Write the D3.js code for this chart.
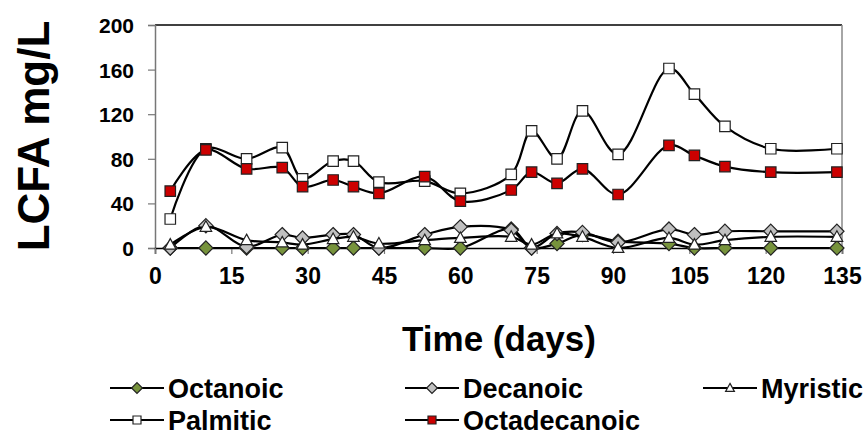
<!DOCTYPE html>
<html>
<head>
<meta charset="utf-8">
<script src="https://cdn.jsdelivr.net/npm/d3@7"></script>
<style>
  body { margin: 0; background: #fff; }
  svg text { font-family: Arial, "Liberation Sans", sans-serif; font-weight: bold; fill: #000; }
</style>
</head>
<body>
<div id="chart"></div>
<script>
const days = [3, 10, 18, 25, 29, 35, 39, 44, 53, 60, 70, 74, 79, 84, 91, 101, 106, 112, 121, 134];
const octanoic = [0, 0, 0, 0, 0, 0, 0, 0, 0, 0, 17, 0, 4, 12, 6, 4, 0, 0, 0, 0];
const decanoic = [0, 20, 1, 12, 9, 12, 12, 0, 12, 19, 16, 0, 13, 14, 5, 17, 12, 15, 15, 15];
const myristic = [3, 19, 7, 5, 3, 8, 10, 4, 7, 9, 10, 3, 13, 10, 0, 9, 3, 7, 10, 10];
const palmitic = [26, 89, 80, 90, 62, 78, 78, 59, 60, 49, 66, 105, 80, 123, 84, 161, 138, 109, 89, 89];
const octadecanoic = [51, 88, 71, 72, 55, 61, 55, 49, 64, 42, 52, 68, 58, 71, 48, 92, 83, 73, 68, 68];
const seriesNames = ["Octanoic", "Decanoic", "Myristic", "Palmitic", "Octadecanoic"];
const xTicks = [0, 15, 30, 45, 60, 75, 90, 105, 120, 135];
const yTicks = [0, 40, 80, 120, 160, 200];

const width = 866, height = 436;
const margin = { top: 25, left: 155, bottom: 188, right: 24 };
const iw = width - margin.left - margin.right;
const ih = height - margin.top - margin.bottom;

const svg = d3.select("#chart").append("svg")
  .attr("width", width).attr("height", height);

const x = d3.scaleLinear().domain([0, 135]).range([0, iw]);
const y = d3.scaleLinear().domain([0, 200]).range([ih, 0]);

const g = svg.append("g").attr("transform", `translate(${margin.left},${margin.top})`);

// frame: top black, right grey
g.append("line").attr("x1", 0).attr("x2", iw).attr("y1", 0).attr("y2", 0)
  .attr("stroke", "#000").attr("stroke-width", 1.5);
g.append("line").attr("x1", iw).attr("x2", iw).attr("y1", 0).attr("y2", ih)
  .attr("stroke", "#888").attr("stroke-width", 1.5);

const yAxis = g.append("g").call(d3.axisLeft(y).tickValues(yTicks).tickSize(7).tickPadding(14));
yAxis.select(".domain").attr("stroke", "#777").attr("stroke-width", 1.5);
yAxis.selectAll(".tick line").attr("stroke", "#777").attr("stroke-width", 1.2);
yAxis.selectAll(".tick text").style("font-size", "21px").attr("dy", "0.36em");

const xAxis = g.append("g").attr("transform", `translate(0,${ih})`)
  .call(d3.axisBottom(x).tickValues(xTicks).tickSize(6).tickPadding(14));
xAxis.select(".domain").attr("stroke", "#000").attr("stroke-width", 1.5);
xAxis.selectAll(".tick line").attr("stroke", "#777").attr("stroke-width", 1.2);
xAxis.selectAll(".tick text").style("font-size", "23px");

svg.append("text")
  .attr("transform", `translate(49,136) rotate(-90)`)
  .attr("text-anchor", "middle")
  .style("font-size", "44px")
  .text("LCFA mg/L");

svg.append("text")
  .attr("x", 499).attr("y", 351)
  .attr("text-anchor", "middle")
  .style("font-size", "35px")
  .text("Time (days)");

const styles = {
  Octanoic: { fill: "#77933C", shape: "diamond" },
  Decanoic: { fill: "#C0C0C0", shape: "diamond" },
  Myristic: { fill: "#FFFFFF", shape: "triangle" },
  Palmitic: { fill: "#FFFFFF", shape: "square" },
  Octadecanoic: { fill: "#CC0000", shape: "square" }
};
const values = { Octanoic: octanoic, Decanoic: decanoic, Myristic: myristic, Palmitic: palmitic, Octadecanoic: octadecanoic };

function markerPath(shape, s) {
  const h = s / 2;
  if (shape === "square") return `M${-h},${-h}H${h}V${h}H${-h}Z`;
  if (shape === "diamond") { const d = h * 1.35; return `M0,${-d}L${d},0L0,${d}L${-d},0Z`; }
  return `M0,${-h * 1.15}L${h * 1.1},${h * 0.85}L${-h * 1.1},${h * 0.85}Z`;
}

const line = d3.line().x(d => x(d[0])).y(d => y(d[1])).curve(d3.curveCatmullRom.alpha(0.5));

seriesNames.forEach(name => {
  const pts = days.map((d, i) => [d, values[name][i]]);
  const st = styles[name];
  const sg = g.append("g");
  sg.append("path").datum(pts)
    .attr("d", line).attr("fill", "none")
    .attr("stroke", "#000").attr("stroke-width", 2.2);
  sg.selectAll("path.m").data(pts).enter().append("path")
    .attr("class", "m")
    .attr("transform", d => `translate(${x(d[0])},${y(d[1])})`)
    .attr("d", markerPath(st.shape, 10.5))
    .attr("fill", st.fill).attr("stroke", "#222").attr("stroke-width", 1.2);
});

// legend
const legendPos = [
  { name: "Octanoic", x: 110, y: 388 },
  { name: "Decanoic", x: 405, y: 388 },
  { name: "Myristic", x: 703, y: 388 },
  { name: "Palmitic", x: 110, y: 420 },
  { name: "Octadecanoic", x: 405, y: 420 }
];
const lg = svg.append("g");
legendPos.forEach(p => {
  const item = lg.append("g").attr("transform", `translate(${p.x},${p.y})`);
  item.append("line").attr("x1", 0).attr("x2", 54).attr("y1", 0).attr("y2", 0)
    .attr("stroke", "#000").attr("stroke-width", 2.2);
  item.append("path").attr("transform", "translate(27,0)")
    .attr("d", markerPath(styles[p.name].shape, 8))
    .attr("fill", styles[p.name].fill).attr("stroke", "#222").attr("stroke-width", 1.2);
  item.append("text").attr("x", 58).attr("y", 0).attr("dy", "0.36em")
    .style("font-size", "27px").text(p.name);
});
</script>
</body>
</html>
